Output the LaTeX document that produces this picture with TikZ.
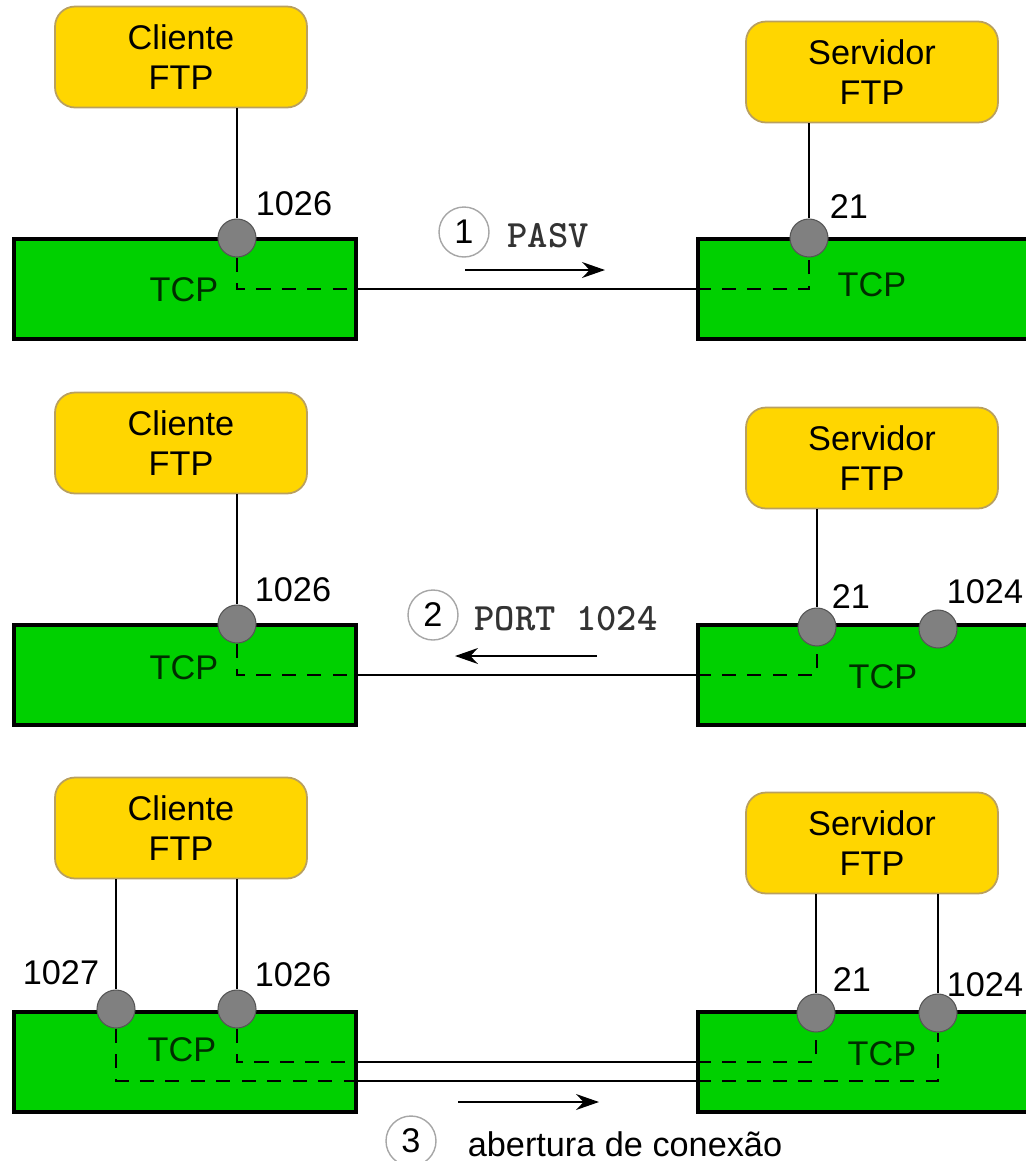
\documentclass[tikz,border=0pt]{standalone}
\usepackage{fontspec}
\setmainfont{Liberation Sans}
\usetikzlibrary{arrows.meta}
\definecolor{appyellow}{RGB}{255,214,0}
\definecolor{appedge}{RGB}{185,160,95}
\definecolor{tcpgreen}{RGB}{0,208,0}
\definecolor{tcptext}{RGB}{0,45,0}
\definecolor{portgray}{RGB}{128,128,128}
\definecolor{portedge}{RGB}{85,85,85}

\begin{document}
\begin{tikzpicture}[x=0.02cm,y=-0.02cm,
  font=\fontsize{19.5}{22.5}\selectfont,
  app/.style={draw=appedge,line width=1pt,fill=appyellow,rounded corners=0.4cm,
    minimum width=5.04cm,minimum height=2.02cm,align=center,inner sep=0pt},
  tcpbox/.style={draw,line width=1.8pt,fill=tcpgreen,minimum width=6.84cm,
    minimum height=2cm,inner sep=0pt},
  port/.style={circle,draw=portedge,line width=0.6pt,fill=portgray,
    minimum size=0.76cm,inner sep=0pt},
  tcplabel/.style={text=tcptext},
  num/.style={circle,draw=gray!70,line width=0.8pt,minimum size=1cm,inner sep=0pt},
  cmd/.style={font=\fontsize{22}{24}\ttfamily\bfseries,text=black!80},
  link/.style={line width=1.5pt},
  inner/.style={line width=1.5pt,dash pattern=on 8pt off 6.5pt},
  msg/.style={line width=1.3pt,-{Stealth[length=13pt,width=9pt]}}]

  \clip (0,0) rectangle (1026,1161);

  % --- 1: PASV
  \node[app] (cli1) at (181,57) {Cliente\\FTP};
  \node[app] (srv1) at (872,72) {Servidor\\FTP};
  \node[tcpbox] (tcpc1) at (185,289) {};
  \node[tcpbox] (tcps1) at (869,289) {};
  \node[tcplabel] (tc1) at (184,290) {TCP};
  \node[tcplabel] (ts1) at (872,285) {TCP};

  \node[port] (p1c) at (237,238) {};
  \node[port] (p1s) at (809,238) {};
  \node (l1c) at (294,204) {1026};
  \node (l1s) at (849,207) {21};

  \draw[link] (p1c |- cli1.south) -- (p1c.north);
  \draw[link] (p1s |- srv1.south) -- (p1s.north);
  \draw[inner] (p1c.south) |- (tcpc1.east);
  \draw[link] (tcpc1.east) -- (tcps1.west);
  \draw[inner] (tcps1.west) -| (p1s.south);

  \node[num] (n1) at (464,232) {1};
  \node[cmd] (m1) at (548,236) {PASV};
  \coordinate (a1) at (465,270);
  \coordinate (b1) at (605,270);
  \draw[msg] (a1) -- (b1);

  % --- 2: PORT 1024
  \node[app] (cli2) at (181,443) {Cliente\\FTP};
  \node[app] (srv2) at (872,458) {Servidor\\FTP};
  \node[tcpbox] (tcpc2) at (185,675) {};
  \node[tcpbox] (tcps2) at (869,675) {};
  \node[tcplabel] (tc2) at (184,668) {TCP};
  \node[tcplabel] (ts2) at (883,677) {TCP};

  \node[port] (p2c) at (237,624) {};
  \node[port] (p2s) at (817,627) {};
  \node[port] (p2x) at (938,629) {};
  \node (l2c) at (293,590) {1026};
  \node (l2s) at (851,597) {21};
  \node (l2x) at (985,592) {1024};

  \draw[link] (p2c |- cli2.south) -- (p2c.north);
  \draw[link] (p2s |- srv2.south) -- (p2s.north);
  \draw[inner] (p2c.south) |- (tcpc2.east);
  \draw[link] (tcpc2.east) -- (tcps2.west);
  \draw[inner] (tcps2.west) -| (p2s.south);

  \node[num] (n2) at (433,615) {2};
  \node[cmd] (m2) at (566,619) {PORT 1024};
  \coordinate (a2) at (597,656);
  \coordinate (b2) at (455,656);
  \draw[msg] (a2) -- (b2);

  % --- 3: abertura de conexao
  \node[app] (cli3) at (181,828) {Cliente\\FTP};
  \node[app] (srv3) at (872,843) {Servidor\\FTP};
  \node[tcpbox] (tcpc3) at (185,1062) {};
  \node[tcpbox] (tcps3) at (869,1062) {};
  \node[tcplabel] (tc3) at (182,1050) {TCP};
  \node[tcplabel] (ts3) at (882,1054) {TCP};

  \node[port] (p3a) at (116,1009) {};
  \node[port] (p3c) at (237,1009) {};
  \node[port] (p3s) at (816,1013) {};
  \node[port] (p3x) at (938,1013) {};
  \node (l3a) at (61,973) {1027};
  \node (l3c) at (293,975) {1026};
  \node (l3s) at (852,980) {21};
  \node (l3x) at (985,985) {1024};

  \draw[link] (p3a |- cli3.south) -- (p3a.north);
  \draw[link] (p3c |- cli3.south) -- (p3c.north);
  \draw[link] (p3s |- srv3.south) -- (p3s.north);
  \draw[link] (p3x |- srv3.south) -- (p3x.north);
  \draw[inner] (p3c.south) |- (tcpc3.east);
  \draw[link] (tcpc3.east) -- (tcps3.west);
  \draw[inner] (tcps3.west) -| (p3s.south);
  \draw[inner] (p3a.south) |- ([yshift=-0.38cm]tcpc3.east);
  \draw[link] ([yshift=-0.38cm]tcpc3.east) -- ([yshift=-0.38cm]tcps3.west);
  \draw[inner] ([yshift=-0.38cm]tcps3.west) -| (p3x.south);

  \coordinate (a3) at (458,1102);
  \coordinate (b3) at (599,1102);
  \draw[msg] (a3) -- (b3);
  \node[num] (n3) at (411,1141) {3};
  \node (m3) at (625,1144) {abertura de conexão};

\end{tikzpicture}
\end{document}
